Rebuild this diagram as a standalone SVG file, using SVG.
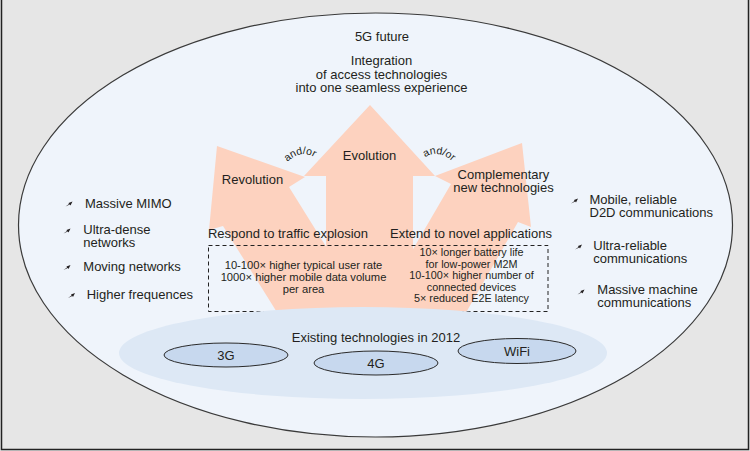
<svg xmlns="http://www.w3.org/2000/svg" xmlns:xlink="http://www.w3.org/1999/xlink" width="750" height="451" viewBox="0 0 750 451">
<defs>
<style>
text{font-family:"Liberation Sans",Arial,sans-serif;fill:#231f20}
.t13{font-size:13px}
.t11{font-size:11.2px}
.t11r{font-size:10.8px}
.c{text-anchor:middle}
.ao{font-size:10.5px}
.arrow{fill:#fdd2bf;stroke:none}
.tech{fill:#c7d8ee;stroke:#2a2a2a;stroke-width:1}
</style>
<path id="bul" d="M-3.5,2.5 L0,0 L-0.5,-1 L3.5,-2.5 L1.5,1.5 L0.8,0.6 Z" fill="#231f20"/>
<path id="arcL" d="M283,166 Q302,145 319,161" fill="none"/>
<path id="arcR" d="M420,162 Q437,144 457,166" fill="none"/>
</defs>
<rect x="0" y="0" width="750" height="451" fill="#e6e6e6"/>
<path d="M1.5,0 V449.5 H748.5 V0" fill="none" stroke="#222" stroke-width="1.5"/>
<g id="future">
<ellipse cx="375.5" cy="225" rx="357" ry="212" fill="#eff4fb" stroke="#3a3a3a" stroke-width="1.2"/>
</g>
<g id="connectors">
<polygon id="arrow-revolution" class="arrow" points="217,146 305,177 289,187 378,330 288,330 223,226 209,230"/>
<polygon id="arrow-complementary" class="arrow" points="522,143 531,227 518,222 456,330 366,330 451,184 435,176"/>
<polygon id="arrow-evolution" class="arrow" points="370,105 435,176 413,176 413,330 326,330 326,176 304,176"/>
</g>
<g id="box">
<rect x="208.5" y="245.5" width="339.5" height="66" fill="none" stroke="#222" stroke-width="1" stroke-dasharray="4,3"/>
</g>
<g id="existing">
<ellipse cx="363" cy="353" rx="244" ry="46" fill="#dde8f5"/>
<text class="t13 c" x="376" y="342">Existing technologies in 2012</text>
</g>
<g id="tech-3g"><ellipse class="tech" cx="226" cy="355" rx="62" ry="12"/><text class="t13 c" x="226" y="360">3G</text></g>
<g id="tech-4g"><ellipse class="tech" cx="376" cy="363" rx="62" ry="12"/><text class="t13 c" x="376" y="368">4G</text></g>
<g id="tech-wifi"><ellipse class="tech" cx="517" cy="351" rx="59" ry="12.5"/><text class="t13 c" x="517" y="356">WiFi</text></g>
<g id="title">
<text class="t13 c" x="382" y="41">5G future</text>
<text class="t13 c" x="381.5" y="65.2">Integration<tspan x="381.5" dy="13.4">of access technologies</tspan><tspan x="381.5" dy="13.4">into one seamless experience</tspan></text>
</g>
<g id="labels">
<text class="t13 c" x="369.5" y="159.5">Evolution</text>
<text class="t13 c" x="252.5" y="184">Revolution</text>
<text class="t13 c" x="503.5" y="178.5">Complementary<tspan x="503.5" dy="13.4">new technologies</tspan></text>
<text class="ao"><textPath xlink:href="#arcL" href="#arcL" startOffset="50%" text-anchor="middle">and/or</textPath></text>
<text class="ao"><textPath xlink:href="#arcR" href="#arcR" startOffset="50%" text-anchor="middle">and/or</textPath></text>
<text class="t13 c" x="288" y="238.3">Respond to traffic explosion</text>
<text class="t13 c" x="471" y="238.3">Extend to novel applications</text>
</g>
<g id="box-text">
<text class="t11 c" x="303.5" y="268.5">10-100× higher typical user rate<tspan x="303.5" dy="12.8">1000× higher mobile data volume</tspan><tspan x="303.5" dy="11.8">per area</tspan></text>
<text class="t11r c" x="471.5" y="256">10× longer battery life<tspan x="471.5" dy="11.6">for low-power M2M</tspan><tspan x="471.5" dy="11.6">10-100× higher number of</tspan><tspan x="471.5" dy="11.6">connected devices</tspan><tspan x="471.5" dy="11.6">5× reduced E2E latency</tspan></text>
</g>
<g id="left-list">
<use href="#bul" xlink:href="#bul" x="69" y="204"/>
<use href="#bul" xlink:href="#bul" x="67" y="231"/>
<use href="#bul" xlink:href="#bul" x="67" y="267.5"/>
<use href="#bul" xlink:href="#bul" x="71.5" y="295.5"/>
<text class="t13" x="85" y="208">Massive MIMO</text>
<text class="t13" x="83.3" y="234">Ultra-dense<tspan x="83.3" dy="13.4">networks</tspan></text>
<text class="t13" x="83.3" y="271">Moving networks</text>
<text class="t13" x="86.7" y="299">Higher frequences</text>
</g>
<g id="right-list">
<use href="#bul" xlink:href="#bul" x="574.5" y="201"/>
<use href="#bul" xlink:href="#bul" x="578.5" y="247"/>
<use href="#bul" xlink:href="#bul" x="581" y="292"/>
<text class="t13" x="589.5" y="203.5">Mobile, reliable<tspan x="589.5" dy="13.4">D2D communications</tspan></text>
<text class="t13" x="593.3" y="249.5">Ultra-reliable<tspan x="593.3" dy="13.4">communications</tspan></text>
<text class="t13" x="597.3" y="293.5">Massive machine<tspan x="597.3" dy="13.4">communications</tspan></text>
</g>
</svg>
